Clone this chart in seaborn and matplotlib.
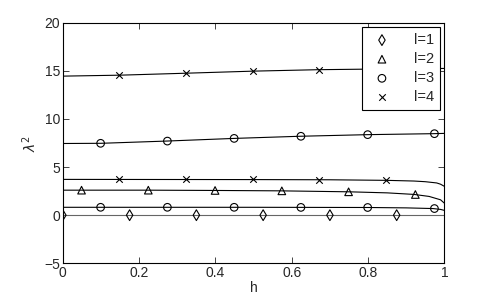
import numpy as np
import pandas as pd
import matplotlib
matplotlib.use("Agg")
import matplotlib.pyplot as plt
import seaborn as sns

# curves (h, lambda^2)
h_l4a = [0.0, 0.15, 0.32, 0.5, 0.67, 0.85, 1.0]
y_l4a = [14.45, 14.55, 14.75, 14.97, 15.12, 15.2, 15.25]
h_l3a = [0.0, 0.1, 0.27, 0.45, 0.62, 0.8, 0.97, 1.0]
y_l3a = [7.45, 7.47, 7.7, 7.98, 8.2, 8.37, 8.47, 8.5]
h_l4b = [0.0, 0.5, 0.7, 0.85, 0.92, 0.95, 0.98, 0.99, 1.0]
y_l4b = [3.72, 3.7, 3.68, 3.62, 3.55, 3.48, 3.35, 3.22, 3.0]
h_l2 = [0.0, 0.22, 0.4, 0.57, 0.75, 0.85, 0.92, 0.96, 0.99, 1.0]
y_l2 = [2.6, 2.6, 2.57, 2.53, 2.43, 2.32, 2.16, 1.95, 1.6, 1.25]
h_l3b = [0.0, 0.5, 0.8, 0.9, 0.97, 0.99, 1.0]
y_l3b = [0.82, 0.82, 0.8, 0.76, 0.69, 0.6, 0.5]
h_l1 = [0.0, 1.0]
y_l1 = [0.0, 0.0]

# marker samples
mk_h_l1 = [0.0, 0.175, 0.35, 0.525, 0.7, 0.875]
mk_y_l1 = [0.0, 0.0, 0.0, 0.0, 0.0, 0.0]
mk_h_l2 = [0.049, 0.224, 0.399, 0.574, 0.749, 0.924]
mk_y_l2 = [2.6, 2.6, 2.57, 2.53, 2.43, 2.15]
mk_h_l3 = [0.099, 0.274, 0.449, 0.624, 0.799, 0.974,
           0.099, 0.274, 0.449, 0.624, 0.799, 0.974]
mk_y_l3 = [0.82, 0.82, 0.82, 0.81, 0.8, 0.69,
           7.47, 7.7, 7.98, 8.2, 8.37, 8.47]
mk_h_l4 = [0.148, 0.323, 0.498, 0.672, 0.847,
           0.148, 0.323, 0.498, 0.672, 0.847]
mk_y_l4 = [3.72, 3.72, 3.71, 3.69, 3.62,
           14.55, 14.76, 14.98, 15.13, 15.2]

sns.set_style("ticks")
plt.rcParams['font.family'] = ['Liberation Sans', 'DejaVu Sans']
plt.rcParams['xtick.direction'] = 'in'
plt.rcParams['ytick.direction'] = 'in'

fig = plt.figure(figsize=(4.91, 3.03), dpi=100)
ax = fig.add_axes([0.128, 0.131, 0.777, 0.794])

curves = [(h_l4a, y_l4a, 'black'), (h_l3a, y_l3a, 'black'),
          (h_l4b, y_l4b, 'black'), (h_l2, y_l2, 'black'),
          (h_l3b, y_l3b, 'black'), (h_l1, y_l1, '#666666')]
for hh, yy, c in curves:
    sns.lineplot(x=hh, y=yy, ax=ax, color=c, lw=0.8, legend=False, zorder=2)

marks = [(mk_h_l1, mk_y_l1, 'd', 'l=1'), (mk_h_l2, mk_y_l2, '^', 'l=2'),
         (mk_h_l3, mk_y_l3, 'o', 'l=3'), (mk_h_l4, mk_y_l4, 'x', 'l=4')]
for hh, yy, m, lab in marks:
    if m == 'x':
        sns.scatterplot(x=hh, y=yy, ax=ax, marker=m, s=22, color='black',
                        linewidth=0.8, label=lab, zorder=3)
    else:
        sns.scatterplot(x=hh, y=yy, ax=ax, marker=m, s=30, facecolor='none',
                        edgecolor='black', linewidth=0.8, label=lab, zorder=3)

ax.set_xlim(0, 1)
ax.set_ylim(-5, 20)
ax.set_xticks([0, 0.2, 0.4, 0.6, 0.8, 1])
ax.set_xticklabels(['0', '0.2', '0.4', '0.6', '0.8', '1'])
ax.set_yticks([-5, 0, 5, 10, 15, 20])
ax.set_yticklabels(['\u22125', '0', '5', '10', '15', '20'])
ax.tick_params(top=True, right=True, length=4, width=0.6, labelsize=10, pad=2)
for sp in ax.spines.values():
    sp.set_linewidth(0.8)
    sp.set_color('black')
ax.set_xlabel('h', fontsize=10, labelpad=1)
ax.set_ylabel('$\\lambda^2$', fontsize=10, labelpad=4)

leg = ax.legend(loc='upper right', frameon=True, fancybox=False, fontsize=10.5,
                borderaxespad=0.3, handletextpad=1.2, labelspacing=0.35,
                borderpad=0.4)
leg.get_frame().set_edgecolor('black')
leg.get_frame().set_linewidth(0.8)
leg.get_frame().set_alpha(1)
leg.set_zorder(5)

fig.savefig("out.png", dpi=100)
